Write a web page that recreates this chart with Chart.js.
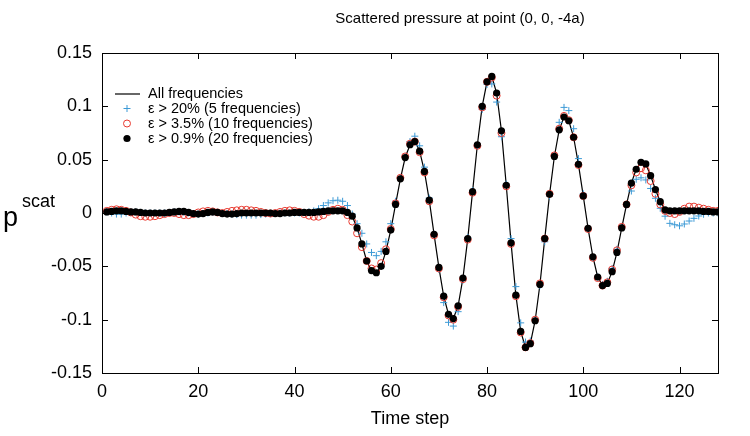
<!DOCTYPE html>
<html>
<head>
<meta charset="utf-8">
<script src="https://cdn.jsdelivr.net/npm/chart.js@4.4.0/dist/chart.umd.min.js"></script>
<style>
  html, body { margin: 0; padding: 0; background: #fff; }
  #wrap { width: 750px; height: 436px; position: relative; }
</style>
</head>
<body>
<div id="wrap"><canvas id="chart" width="750" height="436"></canvas></div>
<script>
// time steps (x)
const timeSteps = [
  1, 2, 3, 4, 5, 6, 7, 8, 9, 10, 11, 12, 13, 14, 15, 16, 17, 18, 19, 20,
  21, 22, 23, 24, 25, 26, 27, 28, 29, 30, 31, 32, 33, 34, 35, 36, 37, 38, 39, 40,
  41, 42, 43, 44, 45, 46, 47, 48, 49, 50, 51, 52, 53, 54, 55, 56, 57, 58, 59, 60,
  61, 62, 63, 64, 65, 66, 67, 68, 69, 70, 71, 72, 73, 74, 75, 76, 77, 78, 79, 80,
  81, 82, 83, 84, 85, 86, 87, 88, 89, 90, 91, 92, 93, 94, 95, 96, 97, 98, 99, 100,
  101, 102, 103, 104, 105, 106, 107, 108, 109, 110, 111, 112, 113, 114, 115, 116, 117, 118, 119, 120,
  121, 122, 123, 124, 125, 126, 127, 128
];

// all frequencies (solid line)
const allFreq = [
  0.001, 0.0015, 0.002, 0.002, 0.0015, 0.001, 0.001, 0.0005, 0, 0,
  0, 0, 0, 0.0005, 0.001, 0.0015, 0.0015, 0.0005, -0.0005, -0.001,
  -0.0005, 0.0005, 0.001, 0.0005, -0.0005, -0.001, -0.001, -0.0005, 0, 0,
  0, 0, 0, 0, 0, -0.0005, -0.0005, 0, 0, 0.0005,
  0.0005, 0.0005, 0.0005, 0.0005, 0.001, 0.0015, 0.002, 0.002, 0.002, 0.002,
  0.0005, -0.003, -0.014, -0.029, -0.045, -0.054, -0.056, -0.050, -0.036, -0.016,
  0.008, 0.032, 0.052, 0.064, 0.068, 0.058, 0.039, 0.012, -0.020, -0.051,
  -0.078, -0.095, -0.099, -0.087, -0.061, -0.024, 0.020, 0.064, 0.100, 0.123,
  0.128, 0.1125, 0.077, 0.026, -0.028, -0.077, -0.111, -0.126, -0.1225, -0.101,
  -0.067, -0.024, 0.0175, 0.053, 0.078, 0.090, 0.0865, 0.071, 0.0456, 0.016,
  -0.0144, -0.041, -0.060, -0.068, -0.066, -0.055, -0.037, -0.014, 0.008, 0.028,
  0.041, 0.0475, 0.046, 0.035, 0.022, 0.0106, 0.003, 0.002, 0.002, 0.002,
  0.002, 0.002, 0.002, 0.002, 0.0015, 0.0015, 0.001, 0.001
];

// eps > 20% (5 frequencies)
const eps20 = [
  0.001, 0, -0.001, -0.001, 0, 0.001, 0.001, 0.0005, 0, 0,
  0, 0, 0, 0, 0.001, 0.001, 0.0005, 0, -0.0005, -0.001,
  -0.0005, 0, 0.0005, 0.0005, 0, -0.0005, -0.001, -0.0015, -0.002, -0.002,
  -0.002, -0.002, -0.0015, -0.001, -0.0005, 0, 0, 0, 0, 0,
  0, 0.0005, 0.001, 0.002, 0.004, 0.007, 0.0095, 0.0115, 0.012, 0.011,
  0.007, -0.001, -0.010, -0.019, -0.029, -0.037, -0.040, -0.036, -0.027, -0.010,
  0.011, 0.033, 0.053, 0.067, 0.072, 0.063, 0.043, 0.014, -0.020, -0.053,
  -0.084, -0.1025, -0.106, -0.0925, -0.063, -0.023, 0.021, 0.063, 0.097, 0.1205,
  0.121, 0.104, 0.0715, 0.027, -0.024, -0.069, -0.103, -0.121, -0.120, -0.100,
  -0.068, -0.027, 0.016, 0.054, 0.085, 0.099, 0.096, 0.079, 0.051, 0.018,
  -0.015, -0.042, -0.060, -0.067, -0.064, -0.052, -0.034, -0.013, 0.007, 0.0206,
  0.0316, 0.033, 0.031, 0.023, 0.0138, 0.0044, -0.003, -0.0097, -0.011, -0.012,
  -0.0103, -0.0075, -0.005, -0.0028, -0.0012, 0, 0, 0
];

// eps > 3.5% (10 frequencies)
const eps35 = [
  0.002, 0.003, 0.0035, 0.003, 0.002, 0.0005, -0.0015, -0.003, -0.0035, -0.0035,
  -0.003, -0.002, -0.001, 0, 0, -0.001, -0.002, -0.002, -0.001, 0.0005,
  0.0015, 0.002, 0.0015, 0.0005, 0, 0.001, 0.002, 0.0025, 0.003, 0.003,
  0.0025, 0.002, 0.001, 0, -0.0005, 0, 0.001, 0.002, 0.0025, 0.002,
  0.001, -0.001, -0.0025, -0.0035, -0.0035, -0.002, 0.001, 0.003, 0.004, 0.003,
  -0.002, -0.008, -0.019, -0.032, -0.045, -0.052, -0.053, -0.047, -0.034, -0.015,
  0.009, 0.033, 0.053, 0.065, 0.067, 0.057, 0.038, 0.011, -0.021, -0.052,
  -0.079, -0.096, -0.100, -0.088, -0.062, -0.025, 0.019, 0.063, 0.099, 0.123,
  0.127, 0.110, 0.075, 0.025, -0.029, -0.078, -0.112, -0.126, -0.122, -0.100,
  -0.066, -0.024, 0.018, 0.054, 0.079, 0.091, 0.087, 0.071, 0.045, 0.016,
  -0.015, -0.042, -0.061, -0.068, -0.065, -0.053, -0.035, -0.013, 0.008, 0.026,
  0.038, 0.042, 0.040, 0.030, 0.018, 0.008, 0.002, 0, -0.001, 0.001,
  0.004, 0.006, 0.006, 0.005, 0.004, 0.003, 0.002, 0.002
];

// eps > 0.9% (20 frequencies)
const eps09 = [
  0.001, 0.0015, 0.002, 0.002, 0.0015, 0.001, 0.001, 0.0005, 0, 0,
  0, 0, 0, 0.0005, 0.001, 0.0015, 0.0015, 0.0005, -0.0005, -0.001,
  -0.0005, 0.0005, 0.001, 0.0005, -0.0005, -0.001, -0.001, -0.0005, 0, 0,
  0, 0, 0, 0, 0, -0.0005, -0.0005, 0, 0, 0.0005,
  0.0005, 0.0005, 0.0005, 0.0005, 0.001, 0.0015, 0.002, 0.002, 0.002, 0.002,
  0.0005, -0.003, -0.014, -0.029, -0.045, -0.054, -0.056, -0.050, -0.036, -0.016,
  0.008, 0.032, 0.052, 0.064, 0.067, 0.058, 0.039, 0.012, -0.020, -0.051,
  -0.078, -0.095, -0.099, -0.087, -0.061, -0.024, 0.020, 0.064, 0.100, 0.123,
  0.128, 0.1125, 0.077, 0.026, -0.028, -0.077, -0.111, -0.126, -0.1225, -0.101,
  -0.067, -0.024, 0.0175, 0.053, 0.078, 0.090, 0.0865, 0.071, 0.0456, 0.016,
  -0.0144, -0.041, -0.060, -0.068, -0.066, -0.055, -0.037, -0.014, 0.008, 0.028,
  0.041, 0.0475, 0.046, 0.035, 0.022, 0.0106, 0.003, 0.002, 0.002, 0.002,
  0.002, 0.002, 0.002, 0.002, 0.0015, 0.0015, 0.001, 0.001
];

const xTicks = [0, 20, 40, 60, 80, 100, 120];
const yTicks = [-0.15, -0.1, -0.05, 0, 0.05, 0.1, 0.15];

const BLUE = '#3d9ad6';
const RED = '#e8392f';
const FONT = "'Liberation Sans', Arial, sans-serif";

function toPoints(values) {
  return timeSteps.map((t, i) => ({ x: t, y: values[i] }));
}

// frame, inward ticks, title, axis labels, legend
const gnuplotDecor = {
  id: 'gnuplotDecor',
  afterDraw(chart) {
    const ctx = chart.ctx;
    const a = chart.chartArea;
    const xs = chart.scales.x, ys = chart.scales.y;
    ctx.save();
    ctx.strokeStyle = '#000';
    ctx.lineWidth = 1;
    ctx.strokeRect(Math.round(a.left) + 0.5, Math.round(a.top) + 0.5,
                   Math.round(a.right - a.left), Math.round(a.bottom - a.top));
    const tl = 6;
    ctx.beginPath();
    xTicks.forEach(v => {
      const px = Math.round(xs.getPixelForValue(v)) + 0.5;
      ctx.moveTo(px, a.bottom); ctx.lineTo(px, a.bottom - tl);
      ctx.moveTo(px, a.top); ctx.lineTo(px, a.top + tl);
    });
    yTicks.forEach(v => {
      const py = Math.round(ys.getPixelForValue(v)) + 0.5;
      ctx.moveTo(a.left, py); ctx.lineTo(a.left + tl, py);
      ctx.moveTo(a.right, py); ctx.lineTo(a.right - tl, py);
    });
    ctx.stroke();

    ctx.fillStyle = '#000';
    ctx.textBaseline = 'middle';
    ctx.textAlign = 'center';
    ctx.font = '15px ' + FONT;
    ctx.fillText('Scattered pressure at point (0, 0, -4a)', 460, 19);
    ctx.font = '18px ' + FONT;
    ctx.fillText('Time step', (a.left + a.right) / 2, 419);

    ctx.textBaseline = 'alphabetic';
    ctx.textAlign = 'left';
    ctx.font = '27px ' + FONT;
    ctx.fillText('p', 3, 226);
    ctx.font = '18px ' + FONT;
    ctx.fillText('scat', 22, 207);

    // legend
    ctx.font = '14.5px ' + FONT;
    ctx.textBaseline = 'middle';
    const lx = 148, rows = [93.5, 108.5, 123.5, 138.5], mx = 127;
    ctx.fillText('All frequencies', lx, rows[0]);
    ctx.fillText('\u03b5 > 20% (5 frequencies)', lx, rows[1]);
    ctx.fillText('\u03b5 > 3.5% (10 frequencies)', lx, rows[2]);
    ctx.fillText('\u03b5 > 0.9% (20 frequencies)', lx, rows[3]);
    ctx.beginPath();
    ctx.moveTo(115, rows[0] + 0.5); ctx.lineTo(140, rows[0] + 0.5);
    ctx.lineWidth = 1.2;
    ctx.stroke();
    ctx.strokeStyle = BLUE;
    ctx.lineWidth = 1;
    ctx.beginPath();
    ctx.moveTo(mx - 3.5, rows[1]); ctx.lineTo(mx + 3.5, rows[1]);
    ctx.moveTo(mx, rows[1] - 3.5); ctx.lineTo(mx, rows[1] + 3.5);
    ctx.stroke();
    ctx.strokeStyle = RED;
    ctx.beginPath();
    ctx.arc(mx, rows[2], 3.5, 0, Math.PI * 2);
    ctx.stroke();
    ctx.fillStyle = '#000';
    ctx.beginPath();
    ctx.arc(mx, rows[3], 3.6, 0, Math.PI * 2);
    ctx.fill();
    ctx.restore();
  }
};

const ctx = document.getElementById('chart');
new Chart(ctx, {
  type: 'scatter',
  data: {
    datasets: [
      {
        label: '\u03b5 > 0.9% (20 frequencies)',
        data: toPoints(eps09),
        pointStyle: 'circle',
        pointRadius: 3.6,
        backgroundColor: '#000',
        borderColor: '#000',
        borderWidth: 0,
        order: 1
      },
      {
        label: '\u03b5 > 3.5% (10 frequencies)',
        data: toPoints(eps35),
        pointStyle: 'circle',
        pointRadius: 3.5,
        backgroundColor: 'rgba(0,0,0,0)',
        borderColor: RED,
        borderWidth: 1,
        order: 2
      },
      {
        label: '\u03b5 > 20% (5 frequencies)',
        data: toPoints(eps20),
        pointStyle: 'cross',
        pointRadius: 3.5,
        borderColor: BLUE,
        borderWidth: 1,
        order: 3
      },
      {
        label: 'All frequencies',
        data: toPoints(allFreq),
        showLine: true,
        pointRadius: 0,
        borderColor: '#000',
        borderWidth: 1.2,
        tension: 0,
        order: 4
      }
    ]
  },
  options: {
    responsive: false,
    animation: false,
    events: [],
    layout: { padding: { top: 53, right: 32, left: 0, bottom: 0 } },
    plugins: {
      legend: { display: false },
      title: { display: false },
      tooltip: { enabled: false }
    },
    scales: {
      x: {
        type: 'linear',
        min: 0,
        max: 128,
        afterFit(scale) { scale.height = 63; },
        grid: { display: false, drawTicks: false },
        border: { display: false },
        ticks: {
          stepSize: 20,
          includeBounds: false,
          padding: 8,
          color: '#000',
          font: { family: FONT, size: 18 }
        }
      },
      y: {
        type: 'linear',
        min: -0.15,
        max: 0.15,
        afterFit(scale) { scale.width = 102; },
        grid: { display: false, drawTicks: false },
        border: { display: false },
        ticks: {
          stepSize: 0.05,
          padding: 10,
          color: '#000',
          font: { family: FONT, size: 18 },
          callback: v => String(Number(v.toFixed(2)))
        }
      }
    }
  },
  plugins: [gnuplotDecor]
});
</script>
</body>
</html>
